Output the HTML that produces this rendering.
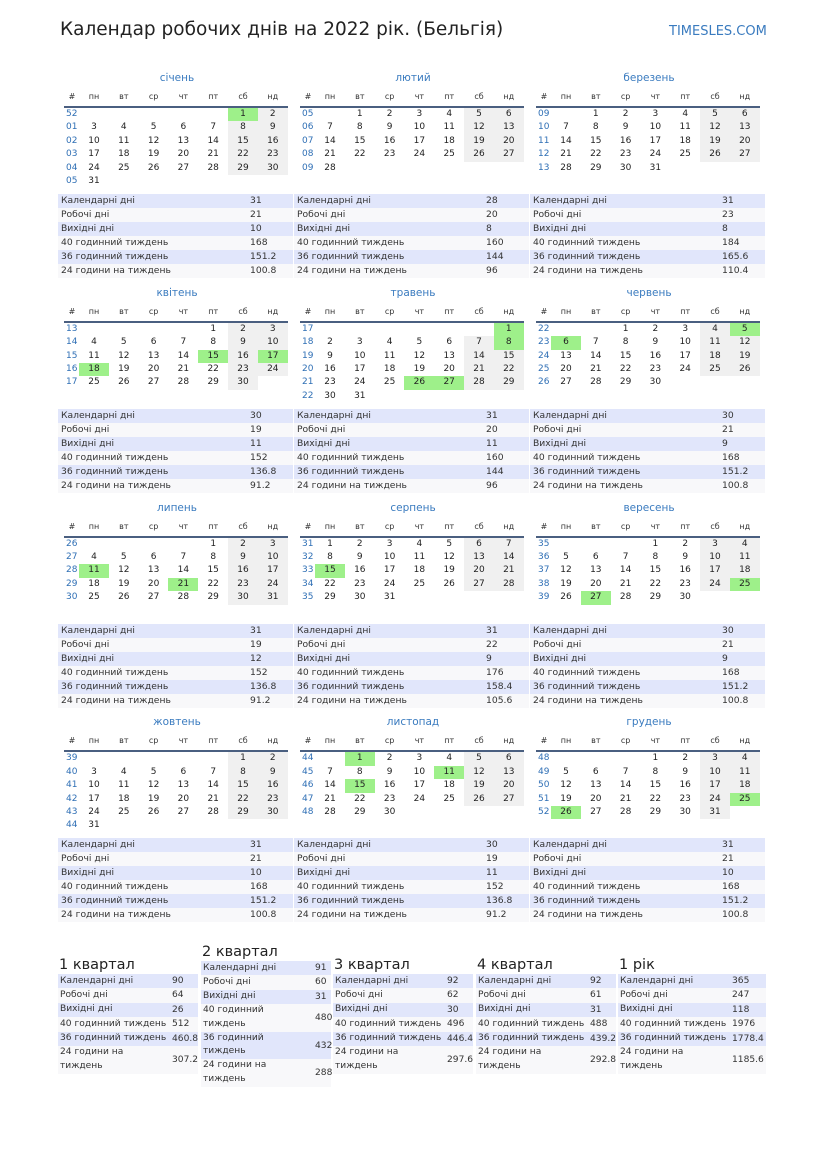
<!DOCTYPE html>
<html><head><meta charset="utf-8">
<style>
body{margin:0;width:827px;height:1169px;background:#fff;position:relative;font-family:"DejaVu Sans","Liberation Sans",sans-serif;color:#222;overflow:hidden}
.a{position:absolute;white-space:nowrap}
.t{font-size:9px;text-align:center;width:30px;line-height:13.4px;height:13.4px}
.wk{font-size:9px;color:#2f6fb5;line-height:13.4px}
.hd{font-size:8px;color:#333;text-align:center;width:30px}
.mt{font-size:10.5px;color:#3a7bbf;text-align:center;width:230px}
.sr{font-size:9.2px;color:#333;height:14px;line-height:14px}
.qs{font-size:9.1px}
.qt{font-size:14.5px;color:#222}
</style></head><body>
<div class="a" style="left:60px;top:19px;font-size:18.5px;color:#222">Календар робочих днів на 2022 рік. (Бельгія)</div>
<div class="a" style="left:669px;top:24px;font-size:13px;color:#3a7bbf">TIMESLES.COM</div>
<div id="root"></div>
<script>
const R=document.getElementById('root');
function add(h){R.insertAdjacentHTML('beforeend',h);}
const names=['січень','лютий','березень','квітень','травень','червень','липень','серпень','вересень','жовтень','листопад','грудень'];
const hol={0:[1],3:[15,17,18],4:[1,8,26,27],5:[5,6],6:[11,21],7:[15],8:[25,27],10:[1,11,15],11:[25,26]};
const data=[[31,21,10,168,151.2,100.8],[28,20,8,160,144,96],[31,23,8,184,165.6,110.4],[30,19,11,152,136.8,91.2],[31,20,11,160,144,96],[30,21,9,168,151.2,100.8],[31,19,12,152,136.8,91.2],[31,22,9,176,158.4,105.6],[30,21,9,168,151.2,100.8],[31,21,10,168,151.2,100.8],[30,19,11,152,136.8,91.2],[31,21,10,168,151.2,100.8]];
const labels=['Календарні дні','Робочі дні','Вихідні дні','40 годинний тиждень','36 годинний тиждень','24 години на тиждень'];
const hdr=['пн','вт','ср','чт','пт','сб','нд'];
function isoWeek(d){const t=new Date(Date.UTC(d.getFullYear(),d.getMonth(),d.getDate()));const day=t.getUTCDay()||7;t.setUTCDate(t.getUTCDate()+4-day);const y0=new Date(Date.UTC(t.getUTCFullYear(),0,1));return Math.ceil(((t-y0)/86400000+1)/7);}
for(let m=0;m<12;m++){
 const ox=(m%3)*236, oy=Math.floor(m/3)*214.8;
 const X=58+ox, Y=oy;
 add(`<div class="a mt" style="left:${X+4}px;top:${Y+72}px">${names[m]}</div>`);
 add(`<div class="a hd" style="left:${X}px;top:${Y+92}px;width:28px">#</div>`);
 hdr.forEach((h,i)=>add(`<div class="a hd" style="left:${X+21+i*29.8}px;top:${Y+92}px">${h}</div>`));
 add(`<div class="a" style="left:${X+6}px;top:${Y+106}px;width:224px;height:2px;background:#4a5f80"></div>`);
 const first=new Date(2022,m,1);let off=(first.getDay()+6)%7;const nd=new Date(2022,m+1,0).getDate();
 let row=0,col=off;
 for(let d=1;d<=nd;d++){
  const top=Y+108+row*13.4;
  if(col===0||d===1){const w=isoWeek(new Date(2022,m,d));add(`<div class="a wk" style="left:${X+8}px;top:${top}px">${String(w).padStart(2,'0')}</div>`);}
  let bg='';
  if(hol[m]&&hol[m].includes(d))bg='#9ef08a';else if(col>=5)bg='#f0f0f0';
  add(`<div class="a t" style="left:${X+21+col*29.8}px;top:${top}px;${bg?'background:'+bg:''}">${d}</div>`);
  col++;if(col===7){col=0;row++;}
 }
 labels.forEach((l,i)=>{const top=Y+194+i*14;add(`<div class="a sr" style="left:${X}px;top:${top}px;width:235px;background:${i%2?'#f8f8fa':'#e1e6fb'}"><span style="position:absolute;left:3px">${l}</span><span style="position:absolute;left:192px">${data[m][i]}</span></div>`);});
}
const Q=[
 {x:58,w:140,ty:957,t:'1 квартал',v:[90,64,26,512,460.8,307.2],wrap:[5]},
 {x:201,w:130,ty:944,t:'2 квартал',v:[91,60,31,480,432,288],wrap:[3,4,5]},
 {x:333,w:140,ty:957,t:'3 квартал',v:[92,62,30,496,446.4,297.6],wrap:[5]},
 {x:476,w:140,ty:957,t:'4 квартал',v:[92,61,31,488,439.2,292.8],wrap:[5]},
 {x:618,w:148,ty:957,t:'1 рік',v:[365,247,118,1976,1778.4,1185.6],wrap:[5]}];
const wl={3:'40 годинний<br>тиждень',4:'36 годинний<br>тиждень',5:'24 години на<br>тиждень'};
Q.forEach(q=>{
 add(`<div class="a qt" style="left:${q.x+1}px;top:${q.ty}px">${q.t}</div>`);
 let y=q.ty+17;
 q.v.forEach((v,i)=>{const two=q.wrap.includes(i);const h=two?27.5:14.4;
  add(`<div class="a sr qs" style="left:${q.x}px;top:${y}px;width:${q.w}px;height:${h}px;background:${i%2?'#f8f8fa':'#e1e6fb'}"><span style="position:absolute;left:2px;top:0;line-height:13.5px;padding-top:${two?0:0.5}px">${two?wl[i]:labels[i]}</span><span style="position:absolute;left:114px;top:${two?7:0}px">${v}</span></div>`);
  y+=h;});
});
</script>
</body></html>
